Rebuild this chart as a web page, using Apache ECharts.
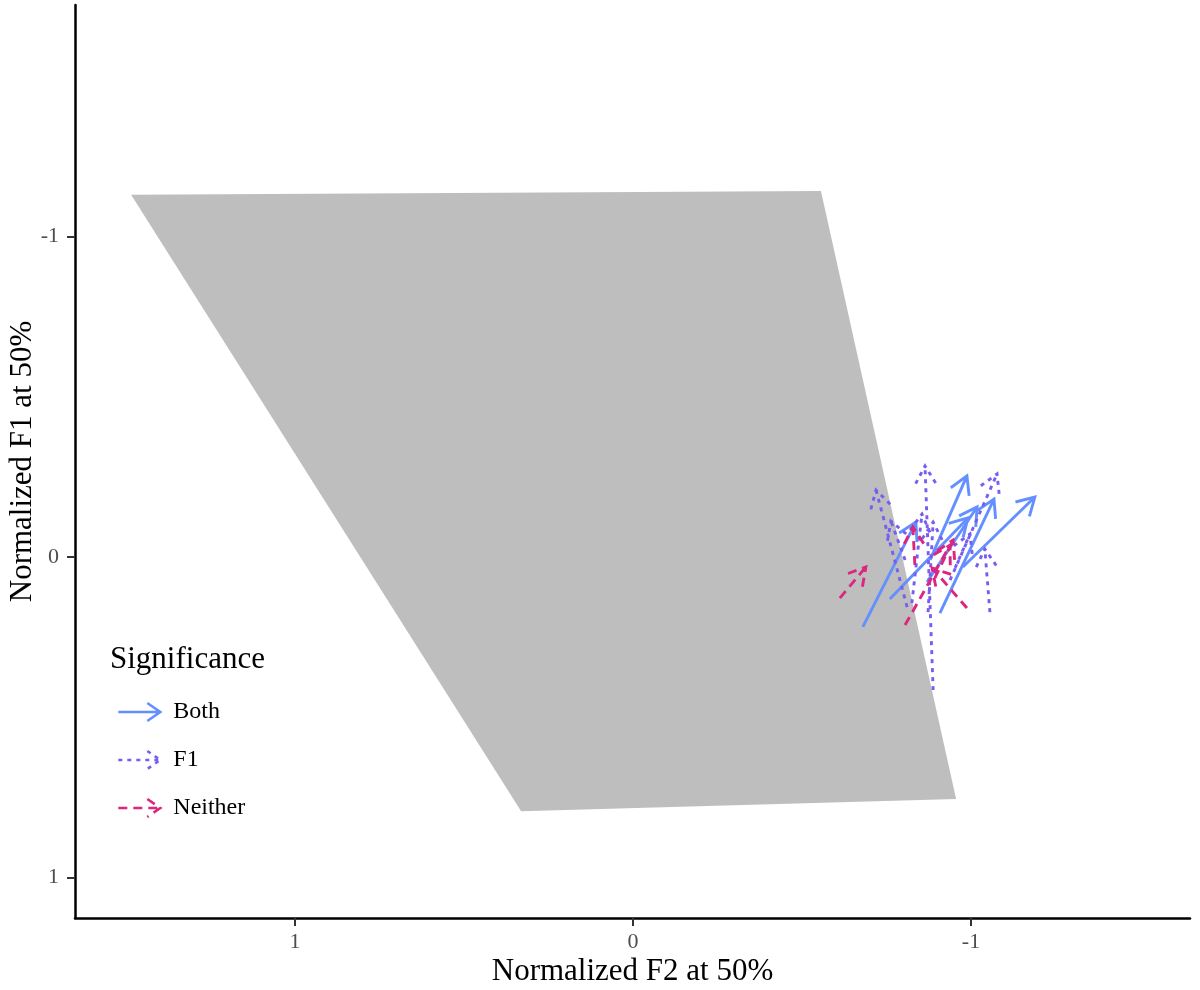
<!DOCTYPE html>
<html>
<head>
<meta charset="utf-8">
<script src="https://cdn.jsdelivr.net/npm/echarts@6/dist/echarts.min.js"></script>
<style>
  html, body { margin: 0; padding: 0; background: #fff; }
  #chart { width: 1200px; height: 990px; }
</style>
</head>
<body>
<div id="chart"></div>
<script>
// vowel space outline (F2, F1)
var vowelSpace = [[1.485, -1.130], [-0.556, -1.142], [-0.956, 0.755], [0.331, 0.793]];

// arrows: [F2 start, F1 start, F2 end, F1 end]
var bothArrows = [
  [-0.680, 0.218, -0.837, -0.109],
  [-0.760, 0.131, -0.991, -0.122],
  [-0.879, 0.009, -0.988, -0.253],
  [-0.870, 0.078, -1.018, -0.156],
  [-0.908, 0.175, -1.068, -0.181],
  [-0.976, 0.031, -1.189, -0.187]
];
var f1Arrows = [
  [-0.888, 0.415, -0.864, -0.284],
  [-0.811, 0.156, -0.719, -0.209],
  [-0.938, 0.072, -1.077, -0.259],
  [-1.056, 0.172, -1.041, -0.025],
  [-0.953, 0.034, -0.997, -0.072],
  [-0.825, 0.144, -0.855, -0.134],
  [-0.873, 0.172, -0.888, -0.109],
  [-0.805, 0.009, -0.763, -0.112]
];
var neitherArrows = [
  [-0.612, 0.128, -0.689, 0.031],
  [-0.805, 0.212, -0.938, -0.037],
  [-0.988, 0.159, -0.885, 0.034],
  [-0.834, 0.025, -0.828, -0.094],
  [-0.893, 0.066, -0.947, -0.053]
];

var xTicks = [-1, 0, 1];
var yTicks = [-1, 0, 1];

var colBoth = '#648FFF', colF1 = '#785EF0', colNeither = '#DC267F';
var FONT = 'Liberation Serif';

// draws one arrow with an open head
function arrowItem(color, dash) {
  return function (params, api) {
    var p0 = api.coord([api.value(0), api.value(1)]);
    var p1 = api.coord([api.value(2), api.value(3)]);
    var ang = Math.atan2(p1[1] - p0[1], p1[0] - p0[0]);
    var len = 20, a = Math.PI / 6;
    var h1 = [p1[0] - len * Math.cos(ang - a), p1[1] - len * Math.sin(ang - a)];
    var h2 = [p1[0] - len * Math.cos(ang + a), p1[1] - len * Math.sin(ang + a)];
    var st = { stroke: color, lineWidth: 2.9, fill: null, lineDash: dash, lineCap: 'butt' };
    return {
      type: 'group',
      children: [
        { type: 'line', shape: { x1: p0[0], y1: p0[1], x2: p1[0], y2: p1[1] }, style: st },
        { type: 'polyline', shape: { points: [h1, p1, h2] }, style: st }
      ]
    };
  };
}

function arrowSeries(name, data, color, dash) {
  return {
    name: name,
    type: 'custom',
    color: color,
    renderItem: arrowItem(color, dash),
    encode: { x: [0, 2], y: [1, 3] },
    data: data,
    silent: true,
    z: 3
  };
}

var chart = echarts.init(document.getElementById('chart'));
var iconPath = 'path://M0,9 L42,9 M29,0 L42,9 L29,18';

chart.setOption({
  animation: false,
  backgroundColor: '#fff',
  title: {
    text: 'Significance',
    left: 105,
    top: 639,
    textStyle: { fontFamily: FONT, fontSize: 31, fontWeight: 'normal', color: '#000' }
  },
  legend: {
    orient: 'vertical',
    left: 112,
    top: 695,
    itemWidth: 42,
    itemHeight: 18,
    itemGap: 24,
    icon: iconPath,
    textStyle: { fontFamily: FONT, fontSize: 24, color: '#000', padding: [0, 0, 0, 8] },
    data: [
      { name: 'Both', itemStyle: { color: 'rgba(0,0,0,0)', borderColor: colBoth, borderWidth: 2.6, borderType: 'solid' } },
      { name: 'F1', itemStyle: { color: 'rgba(0,0,0,0)', borderColor: colF1, borderWidth: 2.6, borderType: [4, 5] } },
      { name: 'Neither', itemStyle: { color: 'rgba(0,0,0,0)', borderColor: colNeither, borderWidth: 2.6, borderType: [9, 6] } }
    ]
  },
  grid: { left: 75, right: 10, top: 5, bottom: 72, containLabel: false, outerBoundsMode: 'none' },
  xAxis: {
    type: 'value',
    inverse: true,
    min: -1.648,
    max: 1.651,
    name: 'Normalized F2 at 50%',
    nameLocation: 'middle',
    nameGap: 38,
    nameMoveOverlap: false,
    nameTextStyle: { fontFamily: FONT, fontSize: 31, color: '#000' },
    axisLine: { show: true, onZero: false, lineStyle: { color: '#000', width: 2.5 } },
    axisTick: { show: true, length: 8, customValues: xTicks, lineStyle: { color: '#333', width: 2 } },
    axisLabel: { customValues: xTicks, margin: 13, fontFamily: FONT, fontSize: 22, color: '#4D4D4D' },
    splitLine: { show: false }
  },
  yAxis: {
    type: 'value',
    inverse: true,
    min: -1.722,
    max: 1.126,
    name: 'Normalized F1 at 50%',
    nameLocation: 'middle',
    nameRotate: 90,
    nameGap: 37,
    nameMoveOverlap: false,
    nameTextStyle: { fontFamily: FONT, fontSize: 31, color: '#000' },
    axisLine: { show: true, onZero: false, lineStyle: { color: '#000', width: 2.5 } },
    axisTick: { show: true, length: 8, customValues: yTicks, lineStyle: { color: '#333', width: 2 } },
    axisLabel: { customValues: yTicks, margin: 16, fontFamily: FONT, fontSize: 22, color: '#4D4D4D' },
    splitLine: { show: false }
  },
  series: [
    {
      name: 'space',
      type: 'custom',
      silent: true,
      z: 1,
      data: vowelSpace,
      encode: { x: 0, y: 1 },
      renderItem: function (params, api) {
        if (params.dataIndex !== 0) return null;
        var pts = vowelSpace.map(function (v) { return api.coord(v); });
        return { type: 'polygon', shape: { points: pts }, style: { fill: '#BEBEBE', stroke: null } };
      }
    },
    arrowSeries('Both', bothArrows, colBoth, null),
    arrowSeries('F1', f1Arrows, colF1, [4, 5]),
    arrowSeries('Neither', neitherArrows, colNeither, [9, 6])
  ]
});
</script>
</body>
</html>
